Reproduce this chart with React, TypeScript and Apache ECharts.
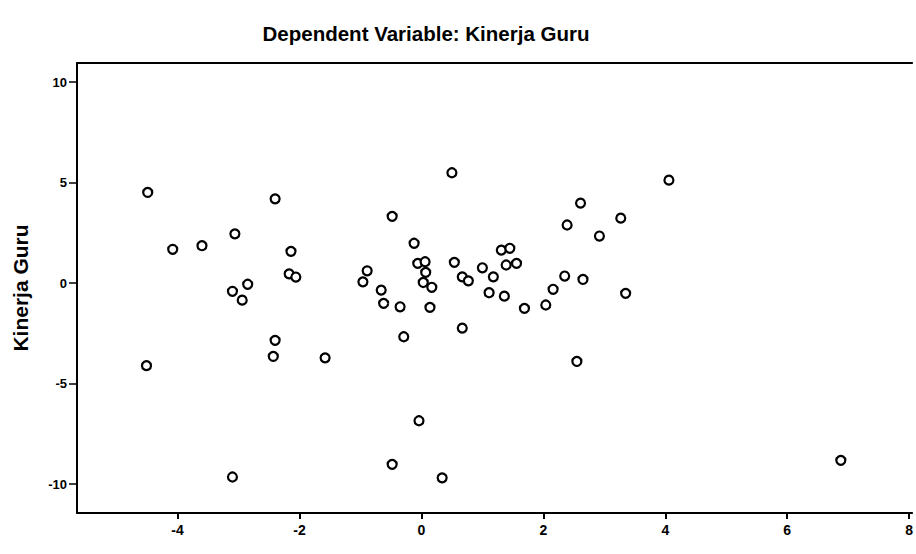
import React, { useEffect, useRef } from "react";
import * as echarts from "echarts";

const titleText = "Dependent Variable: Kinerja Guru";
const yAxisName = "Kinerja Guru";
const xTicks = [-4, -2, 0, 2, 4, 6, 8];
const yTicks = [-10, -5, 0, 5, 10];

const xValues = [
  -4.49, -4.51, -4.08, -3.6, -3.06, -3.1, -2.94, -2.85, -2.4, -2.4, -2.43, -2.14, -2.17, -2.06, -1.58, -3.1,
  -0.89, -0.96, -0.66, -0.62, -0.35, -0.29, -0.48, -0.12, -0.06, 0.06, 0.07, 0.03, 0.17, 0.14,
  0.5, 0.54, 0.67, 0.77, 0.67, 1.0, 1.18, 1.11, 1.31, 1.45, 1.39, 1.56, 1.36, 1.69, 2.04, 2.16,
  2.35, 2.39, 2.61, 2.65, 2.55, 2.92, 3.27, 3.35, 4.06, 6.88, -0.04, -0.48, 0.34,
];
const yValues = [
  4.51, -4.11, 1.68, 1.86, 2.45, -0.41, -0.85, -0.06, 4.19, -2.85, -3.65, 1.58, 0.46, 0.3, -3.72, -9.65,
  0.61, 0.06, -0.35, -1.01, -1.18, -2.67, 3.32, 1.98, 0.98, 1.06, 0.53, 0.03, -0.21, -1.21,
  5.49, 1.03, 0.31, 0.11, -2.24, 0.76, 0.31, -0.48, 1.64, 1.73, 0.9, 0.98, -0.65, -1.26, -1.09, -0.31,
  0.35, 2.89, 3.98, 0.18, -3.9, 2.34, 3.23, -0.51, 5.12, -8.82, -6.85, -9.02, -9.69,
];

const FONT = "'Liberation Sans', Arial, sans-serif";

export default function App() {
  const ref = useRef<HTMLDivElement>(null);
  useEffect(() => {
    if (!ref.current) return;
    const chart = echarts.init(ref.current, null, { renderer: "svg" });
    const data = xValues.map((x, i) => [x, yValues[i]]);
    chart.setOption({
      animation: false,
      backgroundColor: "#ffffff",
      textStyle: { fontFamily: FONT },
      graphic: [
        {
          type: "text",
          x: 426,
          y: 33,
          style: {
            text: titleText,
            fontFamily: FONT,
            fontWeight: "bold",
            fontSize: 20.5,
            fill: "#000",
            textAlign: "center",
            textVerticalAlign: "middle",
          },
        },
      ],
      grid: { left: 77, right: 0, top: 63, bottom: 41, containLabel: false },
      xAxis: [
        {
          type: "value",
          min: -5.65,
          max: 8.05,
          splitLine: { show: false },
          axisLine: { show: true, onZero: false, lineStyle: { color: "#000", width: 2 } },
          axisTick: { show: true, length: 6, customValues: xTicks, lineStyle: { color: "#000", width: 2 } },
          axisLabel: {
            customValues: xTicks,
            color: "#000",
            fontWeight: "bold",
            fontSize: 14,
            margin: 10,
            fontFamily: FONT,
          },
        },
        {
          type: "value",
          position: "top",
          min: -5.65,
          max: 8.05,
          splitLine: { show: false },
          axisLine: { show: true, onZero: false, lineStyle: { color: "#000", width: 2 } },
          axisTick: { show: false },
          axisLabel: { show: false },
        },
      ],
      yAxis: {
        type: "value",
        min: -11.44,
        max: 10.95,
        name: yAxisName,
        nameLocation: "middle",
        nameRotate: 90,
        nameGap: 46,
        nameTextStyle: { color: "#000", fontWeight: "bold", fontSize: 21, fontFamily: FONT },
        splitLine: { show: false },
        axisLine: { show: true, onZero: false, lineStyle: { color: "#000", width: 2 } },
        axisTick: { show: true, length: 8, customValues: yTicks, lineStyle: { color: "#000", width: 1.5 } },
        axisLabel: {
          customValues: yTicks,
          color: "#000",
          fontWeight: "bold",
          fontSize: 13,
          margin: 10,
          fontFamily: FONT,
        },
      },
      series: [
        {
          type: "scatter",
          xAxisIndex: 0,
          data,
          symbol: "circle",
          symbolSize: 9,
          itemStyle: { color: "#ffffff", borderColor: "#000", borderWidth: 2.2, opacity: 1 },
        },
      ],
    });
    return () => chart.dispose();
  }, []);
  return <div ref={ref} style={{ position: "fixed", left: 0, top: 0, width: 916, height: 554 }} />;
}
